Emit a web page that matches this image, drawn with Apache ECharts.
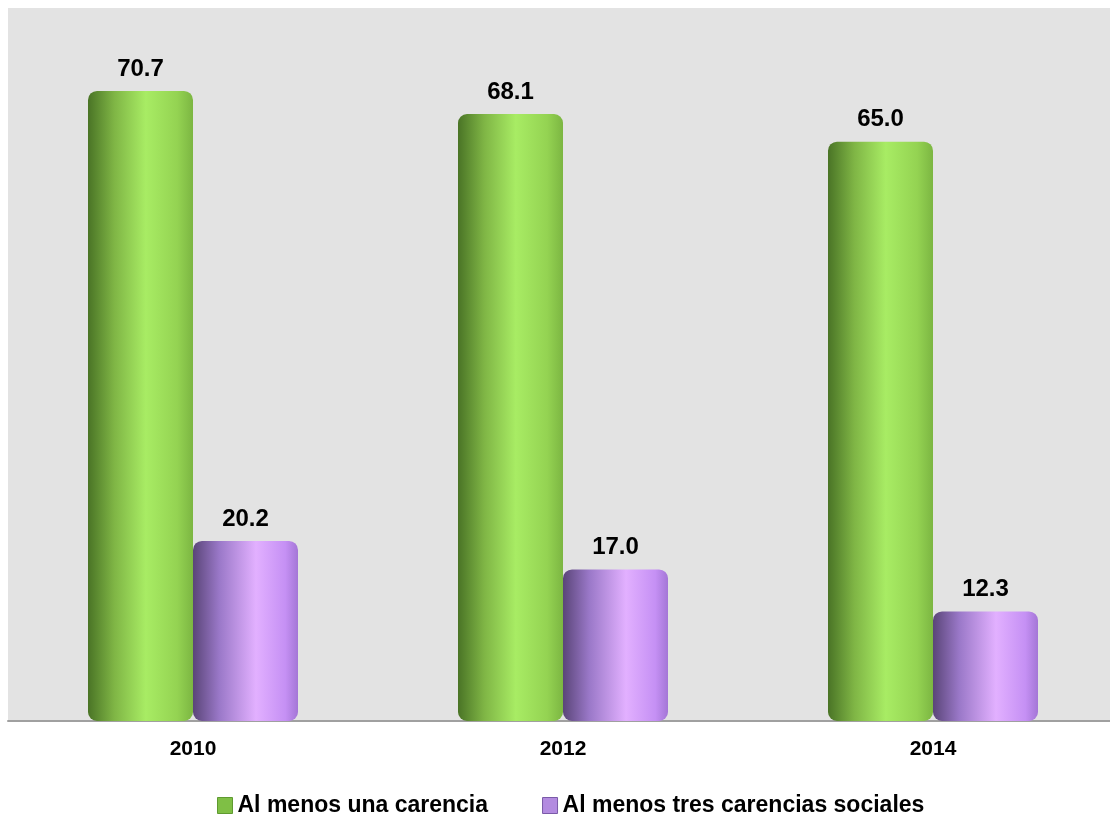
<!DOCTYPE html>
<html>
<head>
<meta charset="utf-8">
<script src="https://cdn.jsdelivr.net/npm/echarts@6/dist/echarts.min.js"></script>
<style>
html,body{margin:0;padding:0;background:#fff;}
#c{width:1110px;height:817px;}
</style>
</head>
<body>
<div id="c"></div>
<script>
const categories = ['2010', '2012', '2014'];
const seriesNames = ['Al menos una carencia', 'Al menos tres carencias sociales'];
const unaCarencia = [70.7, 68.1, 65.0];
const tresCarencias = [20.2, 17.0, 12.3];

const FONT = "'Liberation Sans', Arial, sans-serif";

function grad(stops) {
  return new echarts.graphic.LinearGradient(0, 0, 1, 0, stops);
}
const greenFill = grad([
  {offset: 0, color: '#4a7426'},
  {offset: 0.25, color: '#7fb545'},
  {offset: 0.55, color: '#a8ec64'},
  {offset: 0.85, color: '#94d352'},
  {offset: 1, color: '#7cb642'}
]);
const purpleFill = grad([
  {offset: 0, color: '#5a4578'},
  {offset: 0.25, color: '#9a78c8'},
  {offset: 0.6, color: '#e2b0ff'},
  {offset: 0.88, color: '#c590f4'},
  {offset: 1, color: '#a476d6'}
]);

const chart = echarts.init(document.getElementById('c'));
chart.setOption({
  animation: false,
  grid: {
    left: 8, width: 1110, top: 8, bottom: 96,
    outerBoundsMode: 'none',
    containLabel: false,
    show: true, backgroundColor: '#e3e3e3', borderWidth: 0
  },
  legend: {
    top: 789,
    left: 212,
    itemGap: 54,
    itemWidth: 15,
    itemHeight: 16,
    textStyle: {fontFamily: FONT, fontWeight: 'bold', fontSize: 23, color: '#000'},
    data: [
      {name: seriesNames[0], icon: 'rect', itemStyle: {color: '#7fbf45', borderColor: '#5f9a30', borderWidth: 1}},
      {name: seriesNames[1], icon: 'rect', itemStyle: {color: '#b38be0', borderColor: '#7a5aa8', borderWidth: 1}}
    ]
  },
  xAxis: {
    type: 'category',
    data: categories,
    axisLine: {lineStyle: {color: '#a0a0a0', width: 2}},
    axisTick: {show: false},
    axisLabel: {fontFamily: FONT, fontWeight: 'bold', fontSize: 21, color: '#000', margin: 18}
  },
  yAxis: {
    type: 'value',
    min: 0, max: 80,
    show: false,
    splitLine: {show: false}
  },
  series: [
    {
      name: seriesNames[0],
      type: 'bar',
      data: unaCarencia,
      barWidth: 105,
      barGap: '0%',
      itemStyle: {color: greenFill, borderRadius: 9},
      label: {
        show: true, position: 'top', distance: 10,
        formatter: p => p.value.toFixed(1),
        fontFamily: FONT, fontWeight: 'bold', fontSize: 24, color: '#000'
      }
    },
    {
      name: seriesNames[1],
      type: 'bar',
      data: tresCarencias,
      barWidth: 105,
      barGap: '0%',
      itemStyle: {color: purpleFill, borderRadius: 9},
      label: {
        show: true, position: 'top', distance: 10,
        formatter: p => p.value.toFixed(1),
        fontFamily: FONT, fontWeight: 'bold', fontSize: 24, color: '#000'
      }
    }
  ]
});
</script>
</body>
</html>
